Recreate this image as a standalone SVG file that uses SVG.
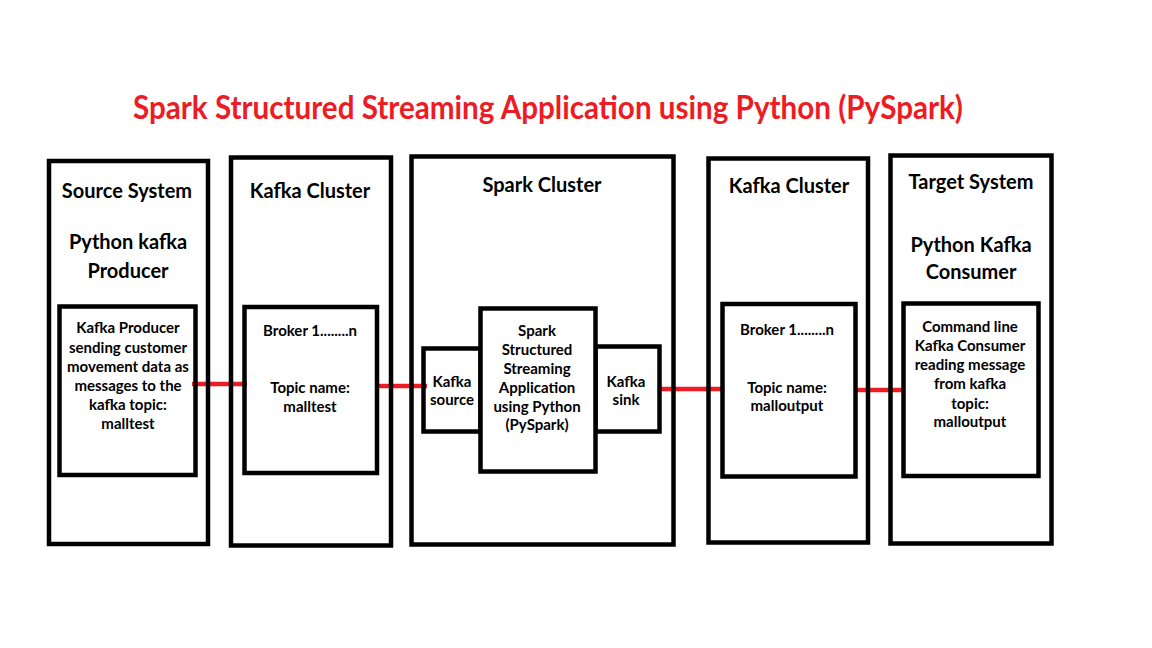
<svg xmlns="http://www.w3.org/2000/svg" width="1152" height="648" viewBox="0 0 1152 648">
<style>
.box{fill:none;stroke:#000;stroke-width:4.5}
.ibox{fill:#fff;stroke:#000;stroke-width:4.5}
.link{stroke:#ED1C24;stroke-width:4.5;fill:none}
text{font-family:Lato,"Liberation Sans",sans-serif;font-weight:bold;fill:#000;text-anchor:middle}
.h{font-size:20px}
.s{font-size:15px}
.title{font-size:32px;fill:#ED1C24}
</style>
<rect width="1152" height="648" fill="#fff"/>
<text class="title" x="548" y="119" textLength="830" lengthAdjust="spacingAndGlyphs">Spark Structured Streaming Application using Python (PySpark)</text>
<g id="connectors">
<line class="link" x1="192" y1="384" x2="247" y2="384"/>
<line class="link" x1="375" y1="386" x2="427" y2="386"/>
<line class="link" x1="658" y1="389" x2="723" y2="389"/>
<line class="link" x1="854" y1="390" x2="903" y2="390"/>
</g>
<g id="source-system">
<rect class="box" x="49" y="161" width="159" height="383"/>
<text class="h" x="127" y="198">Source System</text>
<text class="h" x="128" y="249">Python kafka</text>
<text class="h" x="128" y="278">Producer</text>
</g>
<g id="kafka-producer">
<rect class="box" x="59.5" y="306.5" width="136" height="168.5"/>
<text class="s" x="128" y="333">Kafka Producer</text>
<text class="s" x="128" y="352.5">sending customer</text>
<text class="s" x="128" y="371.5">movement data as</text>
<text class="s" x="128" y="390.5">messages to the</text>
<text class="s" x="128" y="409.5">kafka topic:</text>
<text class="s" x="128" y="428.5">malltest</text>
</g>
<g id="kafka-cluster-1">
<rect class="box" x="231" y="157.5" width="160" height="388"/>
<text class="h" x="310" y="198">Kafka Cluster</text>
</g>
<g id="broker-1">
<rect class="box" x="244.5" y="307" width="132.5" height="166"/>
<text class="s" x="310" y="336">Broker 1........n</text>
<text class="s" x="310" y="392.5">Topic name:</text>
<text class="s" x="310" y="411.5">malltest</text>
</g>
<g id="spark-cluster">
<rect class="box" x="411.5" y="156.5" width="262" height="388"/>
<text class="h" x="542" y="192">Spark Cluster</text>
</g>
<g id="kafka-source">
<rect class="box" x="423.5" y="348.5" width="57" height="83"/>
<text class="s" x="452" y="386.5">Kafka</text>
<text class="s" x="452" y="405">source</text>
</g>
<g id="kafka-sink">
<rect class="box" x="595.5" y="346.5" width="64" height="85"/>
<text class="s" x="626" y="386.5">Kafka</text>
<text class="s" x="626" y="405">sink</text>
</g>
<g id="spark-app">
<rect class="ibox" x="480.5" y="308.5" width="115" height="163"/>
<text class="s" x="537" y="335.5">Spark</text>
<text class="s" x="537" y="354.5">Structured</text>
<text class="s" x="537" y="373.5">Streaming</text>
<text class="s" x="537" y="392.5">Application</text>
<text class="s" x="537" y="411.5">using Python</text>
<text class="s" x="537" y="430">(PySpark)</text>
</g>
<g id="kafka-cluster-2">
<rect class="box" x="708.5" y="158.5" width="159.5" height="384"/>
<text class="h" x="789" y="193">Kafka Cluster</text>
</g>
<g id="broker-2">
<rect class="box" x="722.5" y="304" width="133" height="172.5"/>
<text class="s" x="787" y="335">Broker 1........n</text>
<text class="s" x="787" y="392.5">Topic name:</text>
<text class="s" x="787" y="411">malloutput</text>
</g>
<g id="target-system">
<rect class="box" x="890.5" y="155.5" width="161" height="388"/>
<text class="h" x="971" y="189">Target System</text>
<text class="h" x="971" y="252">Python Kafka</text>
<text class="h" x="971" y="278.5">Consumer</text>
</g>
<g id="kafka-consumer">
<rect class="box" x="903.5" y="303.5" width="135" height="172.5"/>
<text class="s" x="970" y="331.5">Command line</text>
<text class="s" x="970" y="351">Kafka Consumer</text>
<text class="s" x="970" y="370">reading message</text>
<text class="s" x="970" y="389">from kafka</text>
<text class="s" x="970" y="408.5">topic:</text>
<text class="s" x="970" y="427">malloutput</text>
</g>
</svg>
